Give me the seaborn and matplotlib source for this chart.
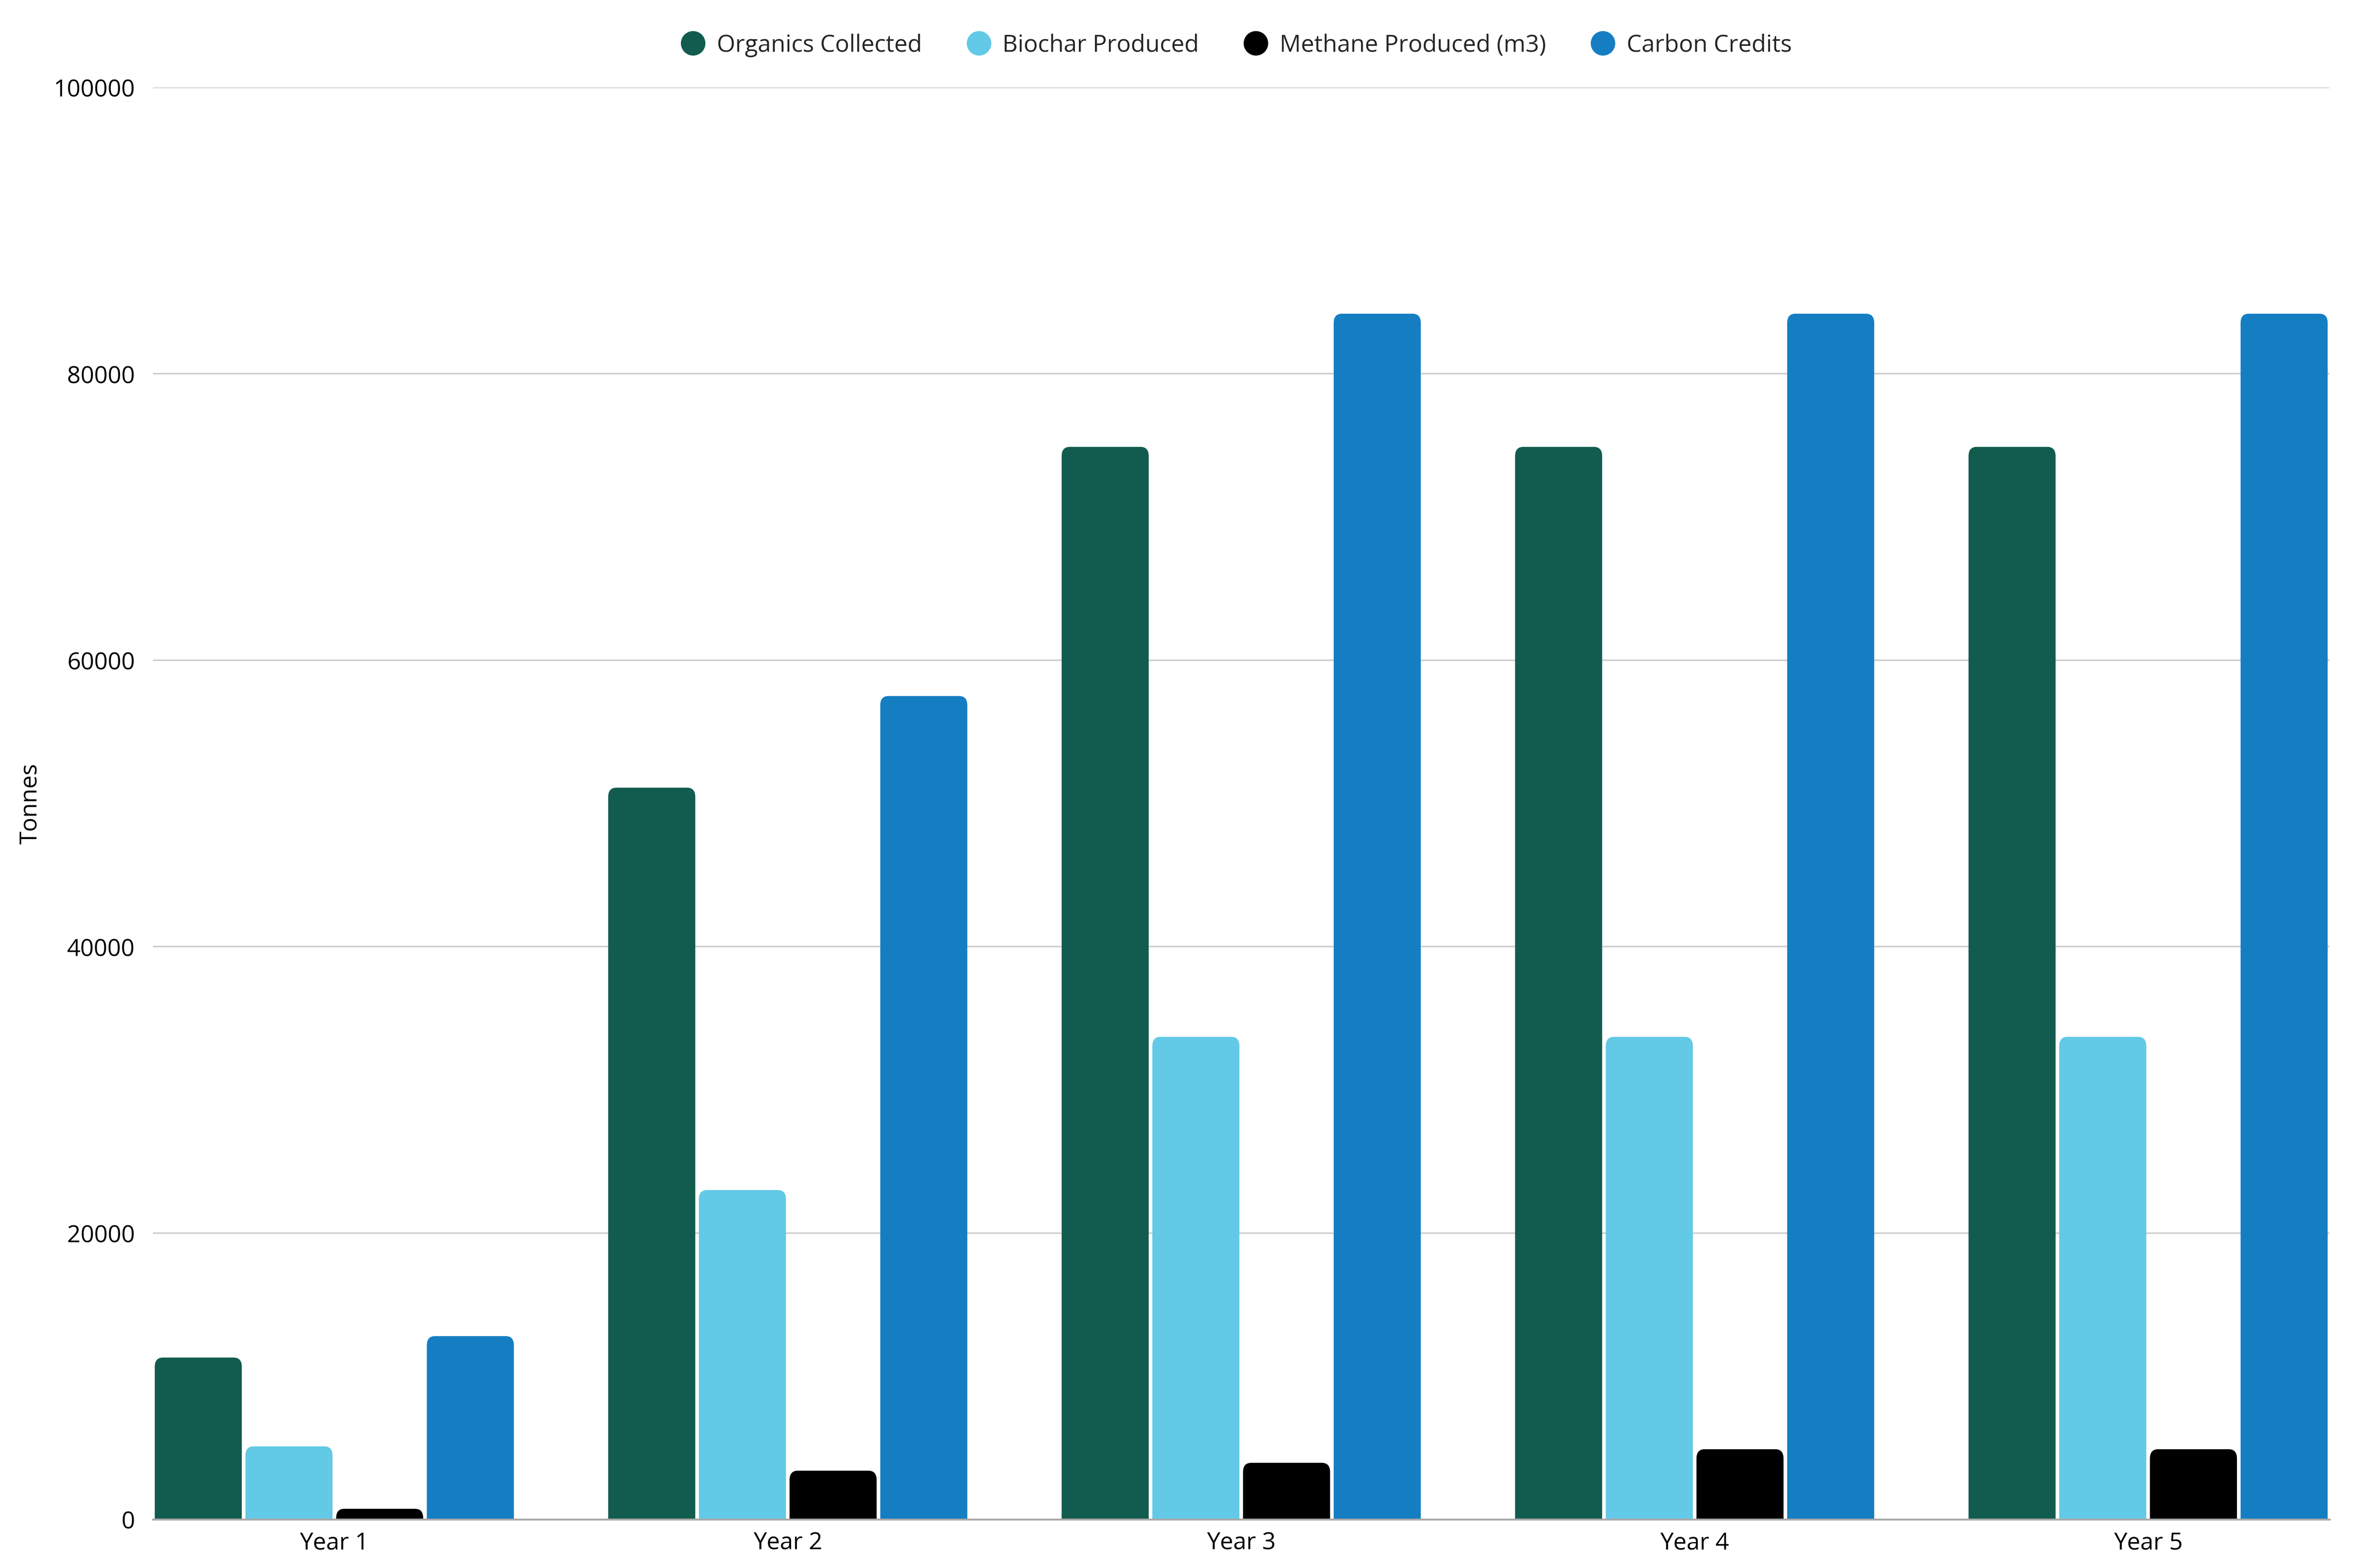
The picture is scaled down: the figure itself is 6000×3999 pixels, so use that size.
import numpy as np
import pandas as pd
import seaborn as sns
import matplotlib.pyplot as plt
from matplotlib.lines import Line2D
from matplotlib.patches import FancyBboxPatch, Rectangle

# values
years = ["Year 1", "Year 2", "Year 3", "Year 4", "Year 5"]
organics = [11300, 51100, 74900, 74900, 74900]
biochar = [5100, 23000, 33700, 33700, 33700]
methane = [740, 3400, 3950, 4900, 4900]
carbon_credits = [12800, 57500, 84200, 84200, 84200]

series_names = ["Organics Collected", "Biochar Produced", "Methane Produced (m3)", "Carbon Credits"]
colors = ["#115C4E", "#62C9E6", "#000000", "#157EC2"]

df = pd.DataFrame({
    "year": years * 4,
    "series": np.repeat(series_names, len(years)),
    "value": organics + biochar + methane + carbon_credits,
})

sns.set_theme(style="white")
plt.rcParams["font.family"] = ["Open Sans", "DejaVu Sans"]

fig = plt.figure(figsize=(20, 13.333), dpi=300)
ax = fig.add_axes([0.065, 0.031, 0.925, 0.913])

sns.barplot(data=df, x="year", y="value", hue="series", hue_order=series_names,
            palette=colors, width=0.8, gap=0.04, saturation=1, errorbar=None,
            legend=False, ax=ax)

# swap the flat rectangles for bars with rounded tops
rx, ry = 0.018, 650
for p in list(ax.patches):
    if not isinstance(p, Rectangle):
        continue
    x, w, h = p.get_x(), p.get_width(), p.get_height()
    fc = p.get_facecolor()
    p.remove()
    box = FancyBboxPatch((x, -4 * ry), w, h + 4 * ry,
                         boxstyle=f"round,pad=0,rounding_size={rx}",
                         mutation_aspect=ry / rx, facecolor=fc,
                         edgecolor="none", zorder=3)
    ax.add_patch(box)

ax.set_xlim(-0.4, 4.4)
ax.set_ylim(0, 100000)
ax.set_yticks([0, 20000, 40000, 60000, 80000, 100000])
ax.set_yticklabels(["0", "20000", "40000", "60000", "80000", "100000"])
ax.yaxis.grid(True, color="#cccccc", linewidth=0.9)
ax.set_axisbelow(True)
for side in ["left", "right", "top"]:
    ax.spines[side].set_visible(False)
ax.spines["bottom"].set_color("#aaaaaa")
ax.spines["bottom"].set_linewidth(1.2)
ax.spines["bottom"].set_zorder(4)

ax.tick_params(axis="y", length=0, pad=11, labelsize=14.5, labelcolor="#000000")
ax.tick_params(axis="x", length=0, pad=7, labelsize=14.5, labelcolor="#000000")
ax.set_xlabel("")
ax.set_ylabel("Tonnes", fontsize=14.5, color="#000000")
ax.yaxis.set_label_coords(-0.051, 0.5)

handles = [Line2D([0], [0], marker="o", linestyle="none", markersize=14,
                  markerfacecolor=c, markeredgecolor=c) for c in colors]
fig.legend(handles, series_names, loc="center", bbox_to_anchor=(0.5255, 0.971),
           ncol=4, frameon=False, fontsize=14.5, handletextpad=0.5,
           columnspacing=1.9, handlelength=1.0)

fig.savefig("out.png", dpi=300, facecolor="white")
